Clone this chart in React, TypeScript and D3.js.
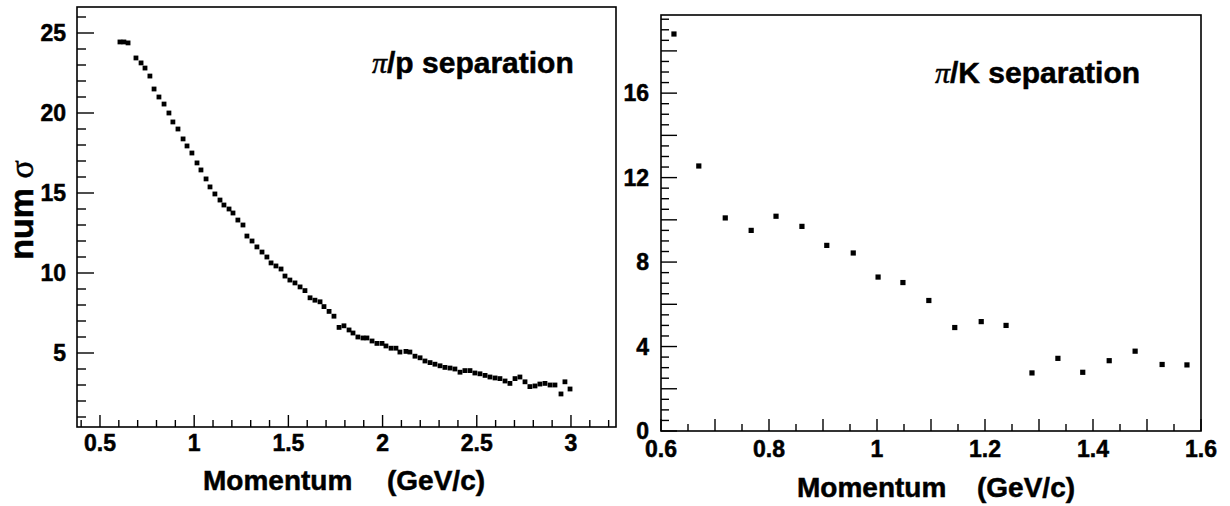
import React from "react";
import * as d3 from "d3";

// π/p separation (left panel)
const piPMomentum = [
  0.606, 0.627, 0.649, 0.691, 0.718, 0.739, 0.765, 0.787, 0.813, 0.84, 0.866, 0.887, 0.914, 0.941,
  0.962, 0.988, 1.015, 1.036, 1.063, 1.084, 1.11, 1.137, 1.158, 1.185, 1.206, 1.232, 1.259, 1.28,
  1.307, 1.333, 1.36, 1.386, 1.408, 1.434, 1.461, 1.482, 1.508, 1.535, 1.562, 1.588, 1.615, 1.641,
  1.668, 1.689, 1.716, 1.742, 1.769, 1.795, 1.822, 1.843, 1.869, 1.896, 1.917, 1.944, 1.97, 1.997,
  2.018, 2.045, 2.071, 2.092, 2.124, 2.145, 2.172, 2.199, 2.225, 2.252, 2.278, 2.305, 2.331, 2.358,
  2.384, 2.411, 2.437, 2.464, 2.49, 2.517, 2.544, 2.57, 2.597, 2.623, 2.65, 2.676, 2.703, 2.729,
  2.756, 2.782, 2.809, 2.835, 2.862, 2.889, 2.915, 2.947, 2.968, 2.995,
];
const piPSigma = [
  24.44, 24.44, 24.38, 23.44, 23.13, 22.81, 22.31, 21.5, 21.0, 20.56, 20.0, 19.44, 19.0, 18.38,
  17.94, 17.5, 16.88, 16.44, 15.88, 15.38, 14.94, 14.56, 14.25, 14.0, 13.75, 13.31, 13.0, 12.31,
  12.0, 11.63, 11.31, 11.0, 10.63, 10.44, 10.25, 9.81, 9.56, 9.38, 9.13, 8.9, 8.45, 8.3,
  8.2, 7.9, 7.6, 7.3, 6.6, 6.7, 6.44, 6.25, 6.0, 5.94, 5.94, 5.75, 5.6, 5.6,
  5.44, 5.3, 5.3, 5.06, 5.1, 5.06, 4.8, 4.7, 4.5, 4.4, 4.3, 4.2, 4.1, 4.06,
  4.0, 3.8, 3.9, 3.9, 3.75, 3.7, 3.6, 3.5, 3.44, 3.4, 3.25, 3.1, 3.4, 3.5,
  3.2, 2.9, 2.94, 3.06, 3.1, 3.0, 3.0, 2.44, 3.2, 2.75,
];

// π/K separation (right panel)
const piKMomentum = [
  0.624, 0.67, 0.719, 0.767, 0.813, 0.861, 0.907, 0.956, 1.002, 1.048, 1.096, 1.144, 1.193, 1.239,
  1.287, 1.335, 1.381, 1.43, 1.478, 1.528, 1.574,
];
const piKSigma = [
  18.8, 12.55, 10.09, 9.5, 10.17, 9.69, 8.79, 8.43, 7.29, 7.03, 6.18, 4.9, 5.18, 5.0,
  2.75, 3.44, 2.78, 3.33, 3.78, 3.15, 3.13,
];

const leftXTicks = [0.5, 1, 1.5, 2, 2.5, 3];
const leftYTicks = [5, 10, 15, 20, 25];
const rightXTicks = [0.6, 0.8, 1, 1.2, 1.4, 1.6];
const rightYTicks = [0, 4, 8, 12, 16];

const FONT = "'Liberation Sans', Arial, Helvetica, sans-serif";
const SERIF = "'Liberation Serif', 'DejaVu Serif', serif";

const near = (v: number, step: number) => Math.abs(v / step - Math.round(v / step)) < 1e-6;

export default function App() {
  // Left panel scales
  const lx = d3.scaleLinear().domain([0.378, 3.239]).range([77, 616]);
  const ly = d3.scaleLinear().domain([0.375, 26.625]).range([427, 7]);
  // Right panel scales
  const rx = d3.scaleLinear().domain([0.6, 1.6]).range([661, 1201]);
  const ry = d3.scaleLinear().domain([0, 19.7]).range([431, 15]);

  const lxMinor = d3.range(4, 33).map((d) => d / 10);
  const lyMinor = d3.range(1, 27);
  const rxMinor = d3.range(0, 21).map((d) => 0.6 + d * 0.05);
  const ryMinor = d3.range(0, 40).map((d) => d * 0.5);

  const [lx0, lx1] = lx.range();
  const [ly0, ly1] = ly.range();
  const [rx0, rx1] = rx.range();
  const [ry0, ry1] = ry.range();

  const lsq = 4.8;
  const rsq = 5.2;
  const textStroke = { stroke: "#000", strokeWidth: 0.5 };

  return (
    <svg
      width={1230}
      height={506}
      style={{ position: "absolute", left: 0, top: 0, background: "#fff" }}
      fontFamily={FONT}
      fontWeight="bold"
    >
      <rect x={0} y={0} width={1230} height={506} fill="#fff" />

      {/* ===== Left panel ===== */}
      <rect x={lx0} y={ly1} width={lx1 - lx0} height={ly0 - ly1} fill="none" stroke="#000" strokeWidth={1.6} />
      {lxMinor.map((t) => {
        const major = near(t, 0.5);
        return (
          <line key={"lxm" + t} x1={lx(t)} x2={lx(t)} y1={ly0} y2={ly0 - (major ? 12 : 7)} stroke="#000" strokeWidth={1.4} />
        );
      })}
      {lyMinor.map((t) => {
        const major = t % 5 === 0;
        return (
          <line key={"lym" + t} x1={lx0} x2={lx0 + (major ? 17 : 9)} y1={ly(t)} y2={ly(t)} stroke="#000" strokeWidth={1.4} />
        );
      })}
      <g {...textStroke}>
        {leftXTicks.map((t) => (
          <text key={"lxt" + t} x={lx(t)} y={451} fontSize={23} textAnchor="middle">
            {String(t)}
          </text>
        ))}
        {leftYTicks.map((t) => (
          <text key={"lyt" + t} x={66} y={ly(t) + 8} fontSize={23} textAnchor="end">
            {String(t)}
          </text>
        ))}
      </g>
      {piPMomentum.map((m, i) => (
        <rect key={"pp" + i} x={lx(m) - lsq / 2} y={ly(piPSigma[i]) - lsq / 2} width={lsq} height={lsq} fill="#000" />
      ))}
      <text x={372} y={73} fontSize={30} {...textStroke}>
        <tspan fontFamily={SERIF} fontWeight="normal" fontStyle="italic">π</tspan>
        <tspan>/p separation</tspan>
      </text>
      <text x={203} y={490} fontSize={28} {...textStroke}>
        <tspan>Momentum</tspan>
        <tspan x={387}>(GeV/c)</tspan>
      </text>
      <text transform="translate(33,210) rotate(-90)" fontSize={34} textAnchor="middle" {...textStroke}>
        <tspan>num </tspan>
        <tspan fontFamily={SERIF} fontWeight="normal">σ</tspan>
      </text>

      {/* ===== Right panel ===== */}
      <rect x={rx0} y={ry1} width={rx1 - rx0} height={ry0 - ry1} fill="none" stroke="#000" strokeWidth={1.6} />
      {rxMinor.map((t) => {
        const major = near(t, 0.1);
        return (
          <line key={"rxm" + t} x1={rx(t)} x2={rx(t)} y1={ry0} y2={ry0 - (major ? 12 : 7)} stroke="#000" strokeWidth={1.4} />
        );
      })}
      {ryMinor.map((t) => {
        const major = t % 2 === 0;
        return (
          <line key={"rym" + t} x1={rx0} x2={rx0 + (major ? 16 : 8)} y1={ry(t)} y2={ry(t)} stroke="#000" strokeWidth={1.4} />
        );
      })}
      <g {...textStroke}>
        {rightXTicks.map((t) => (
          <text key={"rxt" + t} x={rx(t)} y={457} fontSize={23} textAnchor="middle">
            {String(t)}
          </text>
        ))}
        {rightYTicks.map((t) => (
          <text key={"ryt" + t} x={649} y={ry(t) + 8} fontSize={23} textAnchor="end">
            {String(t)}
          </text>
        ))}
      </g>
      {piKMomentum.map((m, i) => (
        <rect key={"pk" + i} x={rx(m) - rsq / 2} y={ry(piKSigma[i]) - rsq / 2} width={rsq} height={rsq} fill="#000" />
      ))}
      <text x={935} y={83} fontSize={30} {...textStroke}>
        <tspan fontFamily={SERIF} fontWeight="normal" fontStyle="italic">π</tspan>
        <tspan>/K separation</tspan>
      </text>
      <text x={797} y={497} fontSize={28} {...textStroke}>
        <tspan>Momentum</tspan>
        <tspan x={977}>(GeV/c)</tspan>
      </text>
    </svg>
  );
}
